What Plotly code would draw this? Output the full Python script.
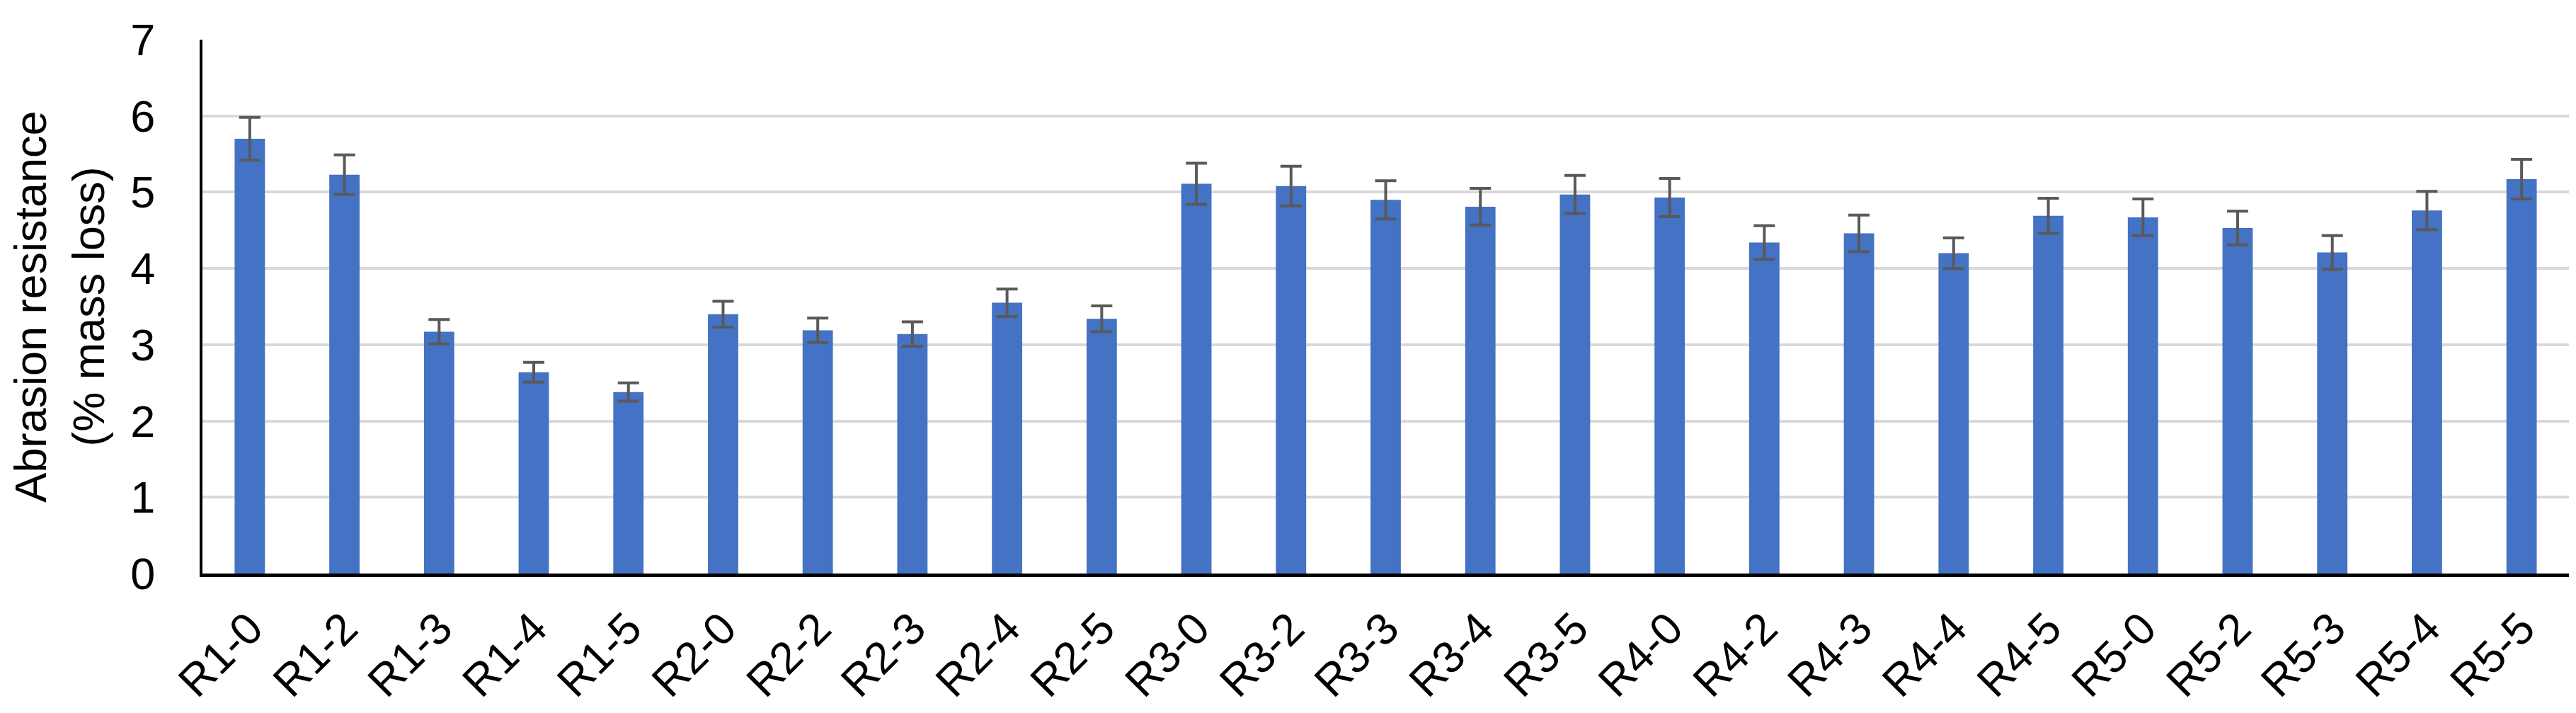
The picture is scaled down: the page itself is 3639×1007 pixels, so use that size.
import plotly.graph_objects as go

COLOR_BAR = "#4472C4"
COLOR_ERR = "#595959"
COLOR_GRID = "#D9D9D9"
COLOR_FONT = "#000000"
FONT_FAMILY = "Liberation Sans, Arial, sans-serif"
SIZE_TEXT = 63

samples = ["R1-0", "R1-2", "R1-3", "R1-4", "R1-5",
           "R2-0", "R2-2", "R2-3", "R2-4", "R2-5",
           "R3-0", "R3-2", "R3-3", "R3-4", "R3-5",
           "R4-0", "R4-2", "R4-3", "R4-4", "R4-5",
           "R5-0", "R5-2", "R5-3", "R5-4", "R5-5"]

mass_loss = [5.70, 5.23, 3.17, 2.64, 2.38,
             3.40, 3.19, 3.14, 3.55, 3.34,
             5.11, 5.08, 4.90, 4.81, 4.97,
             4.93, 4.34, 4.46, 4.20, 4.69,
             4.67, 4.53, 4.21, 4.76, 5.17]

std_dev = [0.28, 0.26, 0.16, 0.13, 0.12,
           0.17, 0.16, 0.16, 0.18, 0.17,
           0.27, 0.26, 0.25, 0.24, 0.25,
           0.25, 0.22, 0.24, 0.20, 0.23,
           0.24, 0.22, 0.22, 0.25, 0.26]

fig = go.Figure()

fig.add_trace(go.Bar(
    x = samples,
    y = mass_loss,
    marker = dict(color = COLOR_BAR, line = dict(width = 0)),
    error_y = dict(
        type = "data",
        array = std_dev,
        visible = True,
        color = COLOR_ERR,
        thickness = 4,
        width = 15
    ),
    showlegend = False
))

fig.update_layout(
    width = 3639,
    height = 1007,
    bargap = 0.68,
    plot_bgcolor = "white",
    paper_bgcolor = "white",
    margin = dict(l = 278, r = 18, t = 48, b = 205),
    font = dict(family = FONT_FAMILY, size = SIZE_TEXT, color = COLOR_FONT),
    xaxis = dict(
        tickangle = -45,
        tickfont = dict(size = SIZE_TEXT, color = COLOR_FONT),
        showgrid = False,
        showline = True,
        linecolor = "black",
        linewidth = 5,
        ticks = "",
        ticklabelstandoff = 10,
    ),
    yaxis = dict(
        range = [0, 7],
        dtick = 1,
        tickfont = dict(size = SIZE_TEXT, color = COLOR_FONT),
        showgrid = True,
        gridcolor = COLOR_GRID,
        gridwidth = 4,
        zeroline = False,
        showline = True,
        linecolor = "black",
        linewidth = 4,
        ticks = "",
        ticklabelstandoff = 50,
        title = dict(
            text = "Abrasion resistance<br>(% mass loss)",
            font = dict(size = 63, color = COLOR_FONT),
            standoff = 25
        ),
    ),
)

fig.write_html("out.html")
